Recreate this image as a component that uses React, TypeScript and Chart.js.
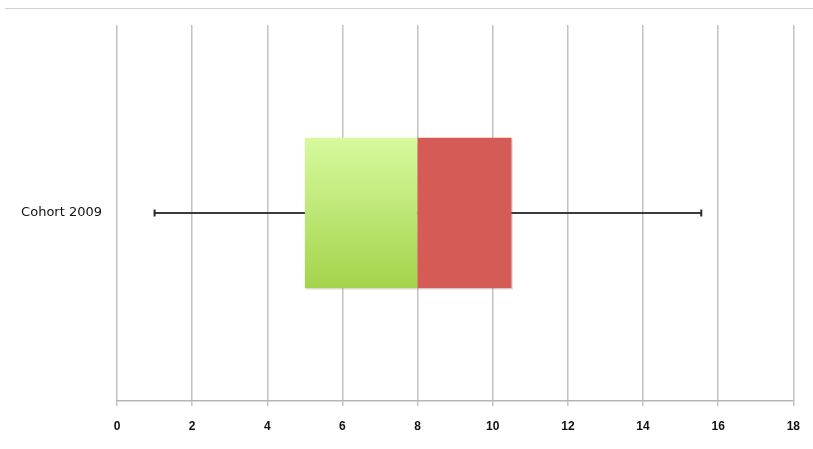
import React, { useEffect, useRef } from "react";
import { Chart, registerables } from "chart.js";

Chart.register(...registerables);

const categories = ["Cohort 2009"];
const whiskerMin = [1];
const q1 = [5];
const median = [8];
const q3 = [10.5];
const whiskerMax = [15.55];
const xTicks = [0, 2, 4, 6, 8, 10, 12, 14, 16, 18];

const lowerBox = categories.map((_, i) => [q1[i], median[i]]);
const upperBox = categories.map((_, i) => [median[i], q3[i]]);
const whiskerSpan = categories.map((_, i) => [whiskerMin[i], whiskerMax[i]]);

const boxPlotPlugin = {
  id: "boxPlotPlugin",
  beforeDatasetsDraw(chart: any) {
    const ctx = chart.ctx;
    const meta = chart.getDatasetMeta(1);
    meta.data.forEach((el: any) => {
      const top = el.y - el.height / 2;
      const bottom = el.y + el.height / 2;
      const g = ctx.createLinearGradient(0, top, 0, bottom);
      g.addColorStop(0, "#d7fa9e");
      g.addColorStop(1, "#a3d44c");
      el.options.backgroundColor = g;
    });
    [1, 2].forEach((di) => {
      chart.getDatasetMeta(di).data.forEach((el: any) => {
        const top = el.y - el.height / 2;
        const left = Math.min(el.x, el.base);
        const w = Math.abs(el.x - el.base);
        ctx.save();
        ctx.fillStyle = "rgba(0,0,0,0.10)";
        ctx.fillRect(left + 1.5, top + 1.5, w, el.height);
        ctx.restore();
      });
    });
  },
  afterDatasetsDraw(chart: any) {
    const ctx = chart.ctx;
    const xs = chart.scales.x;
    const ys = chart.scales.y;
    ctx.save();
    ctx.strokeStyle = "#2a2a2a";
    ctx.lineWidth = 2;
    categories.forEach((_, i) => {
      const y = ys.getPixelForValue(i);
      [whiskerMin[i], whiskerMax[i]].forEach((v) => {
        const x = xs.getPixelForValue(v);
        ctx.beginPath();
        ctx.moveTo(x, y - 3.5);
        ctx.lineTo(x, y + 3.5);
        ctx.stroke();
      });
    });
    ctx.restore();
  },
};

export default function App() {
  const ref = useRef<HTMLCanvasElement>(null);
  useEffect(() => {
    if (!ref.current) return;
    const chart = new Chart(ref.current, {
      type: "bar",
      data: {
        labels: categories,
        datasets: [
          {
            label: "whisker",
            data: whiskerSpan as any,
            backgroundColor: "#3a3a3a",
            barThickness: 1.5,
            grouped: false,
            order: 3,
          },
          {
            label: "Q1-median",
            data: lowerBox as any,
            backgroundColor: "#bde57a",
            barPercentage: 0.4,
            categoryPercentage: 1,
            grouped: false,
            order: 2,
          },
          {
            label: "median-Q3",
            data: upperBox as any,
            backgroundColor: "#d55c56",
            barPercentage: 0.4,
            categoryPercentage: 1,
            grouped: false,
            order: 1,
          },
        ],
      },
      options: {
        indexAxis: "y",
        animation: false,
        responsive: true,
        maintainAspectRatio: false,
        layout: { padding: { top: 25, right: 17, left: 0, bottom: 0 } },
        plugins: {
          legend: { display: false },
          tooltip: { enabled: false },
        },
        scales: {
          x: {
            type: "linear",
            min: 0,
            max: 18,
            afterBuildTicks: (scale: any) => {
              scale.ticks = xTicks.map((v) => ({ value: v }));
            },
            afterFit: (scale: any) => {
              scale.height = 48;
            },
            grid: {
              color: "#c2c2c2",
              lineWidth: 1.5,
              tickLength: 5,
              tickColor: "#c2c2c2",
            },
            border: { display: true, color: "#b5b5b5", width: 1.5 },
            ticks: {
              color: "#111",
              padding: 13,
              maxRotation: 0,
              font: { family: "Liberation Sans", size: 12, weight: "bold" },
            },
          },
          y: {
            afterFit: (scale: any) => {
              scale.width = 117;
            },
            grid: { display: false, drawTicks: false },
            border: { display: false },
            ticks: {
              color: "#111",
              padding: 15,
              font: { family: "DejaVu Sans", size: 13 },
            },
          },
        },
      },
      plugins: [boxPlotPlugin],
    });
    return () => chart.destroy();
  }, []);

  return (
    <div style={{ position: "fixed", left: 0, top: 0, width: 813, height: 449, background: "#fff" }}>
      <div
        style={{
          position: "absolute",
          left: 5,
          right: 0,
          top: 8,
          borderTop: "1.5px solid #cfcfcf",
        }}
      />
      <canvas ref={ref} style={{ position: "absolute", left: 0, top: 0 }} />
    </div>
  );
}
